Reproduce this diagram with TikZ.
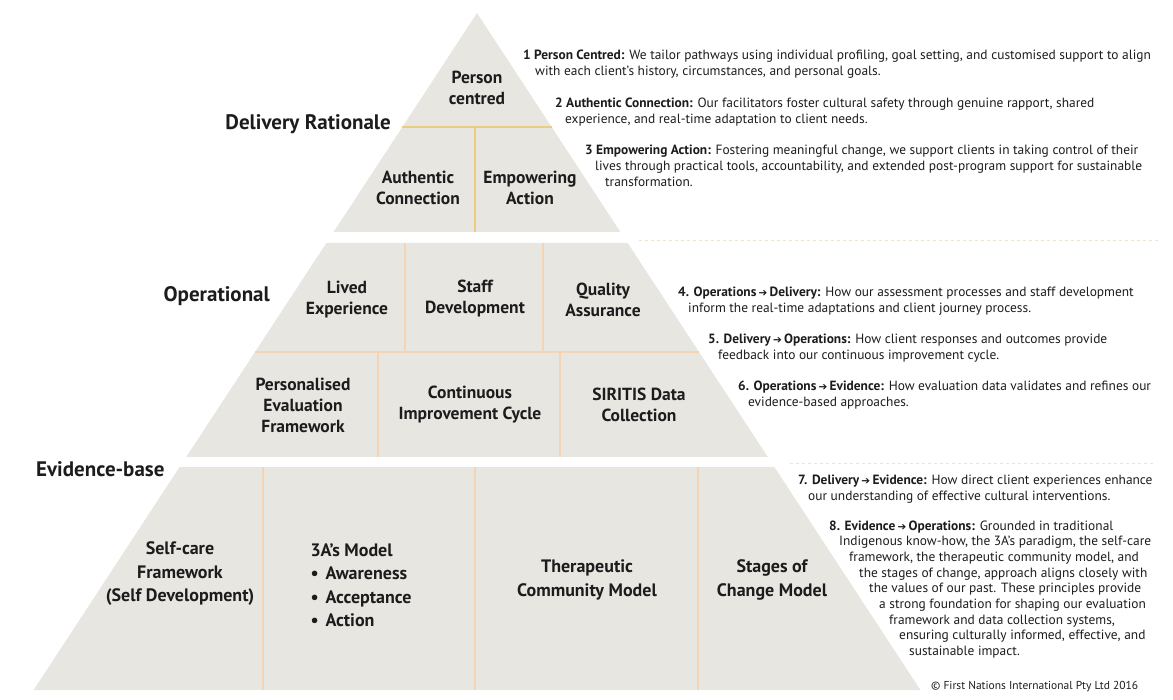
\documentclass[tikz,border=0pt]{standalone}
\usepackage{fontspec}
\setmainfont{PT Sans}
\newfontfamily\symfont{DejaVu Sans}
\definecolor{pyrgray}{RGB}{232,230,225}
\definecolor{goldline}{RGB}{236,204,128}
\definecolor{peachline}{RGB}{244,212,180}
\definecolor{dashcol}{RGB}{240,228,196}
\definecolor{inkcol}{RGB}{28,28,28}
\newcommand{\dirarrow}{\,{\symfont\fontsize{10.5}{10}\selectfont ➔}\,}
\newcommand{\bul}{\makebox[15pt][l]{\textbullet}}

\begin{document}
\begin{tikzpicture}[x=1pt,y=-1pt,
  cell/.style={align=center,text=inkcol,font=\fontsize{17.5}{21}\selectfont\bfseries},
  bigcell/.style={cell,font=\fontsize{18}{23.5}\selectfont\bfseries},
  tier/.style={text=inkcol,inner sep=0pt,font=\fontsize{21}{22}\selectfont\bfseries},
  note/.style={anchor=base west,inner sep=0pt,text=inkcol,font=\fontsize{13.4}{14}\selectfont},
  divgold/.style={goldline,line width=2pt},
  divpeach/.style={peachline,line width=1.2pt}]
  \useasboundingbox (0,0) rectangle (1173,700);

  % pyramid tiers
  \fill[pyrgray] (477,13) -- (620.4,232) -- (333.6,232) -- cycle;
  \fill[pyrgray] (326.4,243) -- (627.7,243) -- (767.8,457) -- (186.2,457) -- cycle;
  \fill[pyrgray] (179.6,467) -- (774.4,467) -- (920.4,690) -- (33.6,690) -- cycle;

  % cell dividers
  \draw[divgold] (402.3,127) -- (551.7,127);
  \draw[divgold] (475,127) -- (475,232);
  \draw[divpeach] (255,352) -- (699,352);
  \draw[divpeach] (405,243) -- (405,352);
  \draw[divpeach] (543,243) -- (543,352);
  \draw[divpeach] (378,352) -- (378,457);
  \draw[divpeach] (560,352) -- (560,457);
  \draw[divpeach] (263,467) -- (263,690);
  \draw[divpeach] (475,467) -- (475,690);
  \draw[divpeach] (698,467) -- (698,690);

  % tier separators on the right
  \draw[dashcol,dashed,line width=0.8pt] (639,240) -- (1160,240);
  \draw[dashcol,dashed,line width=0.8pt] (790,463) -- (1153,463);

  % tier names
  \node[tier,anchor=east] (delivery) at (391,124) {Delivery Rationale};
  \node[tier,anchor=east] (operational) at (270,296) {Operational};
  \node[tier,anchor=west] (evidence) at (36,469) {Evidence-base};

  % delivery rationale
  \node[cell] (person) at (477,88) {Person\\centred};
  \node[cell] (authentic) at (418,188) {Authentic\\Connection};
  \node[cell] (empowering) at (530,188) {Empowering\\Action};

  % operational
  \node[cell] (lived) at (347,300) {Lived\\Experience};
  \node[cell] (staff) at (475,299) {Staff\\Development};
  \node[cell] (quality) at (603,300) {Quality\\Assurance};
  \node[cell] (personalised) at (303,405) {Personalised\\Evaluation\\Framework};
  \node[cell] (continuous) at (470,405) {Continuous\\Improvement Cycle};
  \node[cell] (siritis) at (639,405) {SIRITIS Data\\Collection};

  % evidence-base
  \node[bigcell] (selfcare) at (180,574) {Self-care\\Framework\\(Self Development)};
  \node[bigcell,align=left,anchor=west] (threea) at (307,585)
     {3A’s Model\\\bul Awareness\\\bul Acceptance\\\bul Action};
  \node[bigcell] (therapeutic) at (587,580) {Therapeutic\\Community Model};
  \node[bigcell] (stages) at (772,580) {Stages of\\Change Model};

  % notes
  \node[note] (n1a) at (523,60) {\textbf{1 Person Centred:} We tailor pathways using individual profiling, goal setting, and customised support to align};
  \node[note] (n1b) at (535,76) {with each client’s history, circumstances, and personal goals.};
  \node[note] (n2a) at (555,108) {\textbf{2 Authentic Connection:} Our facilitators foster cultural safety through genuine rapport, shared};
  \node[note] (n2b) at (565,124) {experience, and real-time adaptation to client needs.};
  \node[note] (n3a) at (585,155) {\textbf{3 Empowering Action:} Fostering meaningful change, we support clients in taking control of their};
  \node[note] (n3b) at (595,171) {lives through practical tools, accountability, and extended post-program support for sustainable};
  \node[note] (n3c) at (605,187) {transformation.};
  \node[note] (n4a) at (678,297) {\textbf{4. Operations\dirarrow Delivery:} How our assessment processes and staff development};
  \node[note] (n4b) at (688,313) {inform the real-time adaptations and client journey process.};
  \node[note] (n5a) at (708,344) {\textbf{5. Delivery\dirarrow Operations:} How client responses and outcomes provide};
  \node[note] (n5b) at (718,360) {feedback into our continuous improvement cycle.};
  \node[note] (n6a) at (738,391) {\textbf{6. Operations\dirarrow Evidence:} How evaluation data validates and refines our};
  \node[note] (n6b) at (748,407) {evidence-based approaches.};
  \node[note] (n7a) at (798,484) {\textbf{7. Delivery\dirarrow Evidence:} How direct client experiences enhance};
  \node[note] (n7b) at (808,500) {our understanding of effective cultural interventions.};
  \node[note] (n8) at (829,530) {\textbf{8. Evidence\dirarrow Operations:} Grounded in traditional};
  \foreach \txt [count=\i from 1] in {
      {Indigenous know-how, the 3A’s paradigm, the self-care},
      {framework, the therapeutic community model, and},
      {the stages of change, approach aligns closely with},
      {the values of our past. These principles provide},
      {a strong foundation for shaping our evaluation},
      {framework and data collection systems,},
      {ensuring culturally informed, effective, and},
      {sustainable impact.}}
    \node[note] (n8-\i) at (829+10*\i,530+15.7*\i) {\txt};

  \node[note,font=\fontsize{11.5}{12}\selectfont] (copyright) at (931,689) {© First Nations International Pty Ltd 2016};
\end{tikzpicture}
\end{document}
